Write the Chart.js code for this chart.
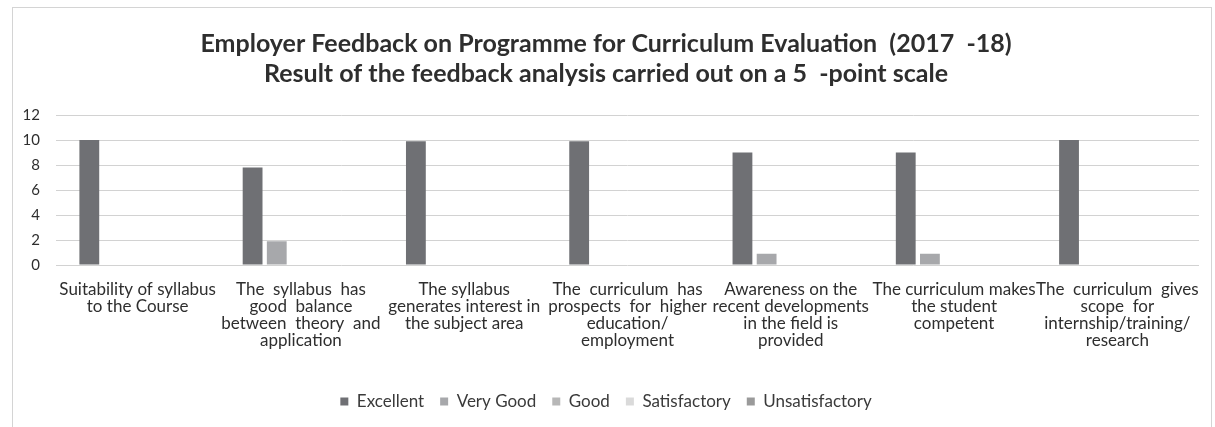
<!DOCTYPE html>
<html>
<head>
<meta charset="utf-8">
<script src="https://cdn.jsdelivr.net/npm/chart.js@4/dist/chart.umd.min.js"></script>
<style>
  html, body { margin: 0; padding: 0; background: #fff; }
  #wrap { position: absolute; left: 12px; top: 7px; width: 1200px; height: 420px; border-left: 1px solid #d4d4d4; border-top: 1px solid #d4d4d4; border-right: 1px solid #d4d4d4; box-sizing: border-box; }
  canvas { display: block; }
</style>
</head>
<body>
<div id="wrap"><canvas id="c"></canvas></div>
<script>
const titleLines = [
  "Employer Feedback on Programme for Curriculum Evaluation  (2017  -18)",
  "Result of the feedback analysis carried out on a 5  -point scale"
];
const categories = [
  ["Suitability of syllabus", "to the Course"],
  ["The  syllabus  has", "good  balance", "between  theory  and", "application"],
  ["The syllabus", "generates interest in", "the subject area"],
  ["The  curriculum  has", "prospects  for  higher", "education/", "employment"],
  ["Awareness on the", "recent developments", "in the field is", "provided"],
  ["The curriculum makes", "the student", "competent"],
  ["The  curriculum  gives", "scope  for", "internship/training/", "research"]
];
const seriesNames = ["Excellent", "Very Good", "Good", "Satisfactory", "Unsatisfactory"];
const excellent      = [10, 7.8, 9.9, 9.9, 9.0, 9.0, 10];
const veryGood       = [0, 1.9, 0, 0, 0.9, 0.9, 0];
const good           = [0, 0, 0, 0, 0, 0, 0];
const satisfactory   = [0, 0, 0, 0, 0, 0, 0];
const unsatisfactory = [0, 0, 0, 0, 0, 0, 0];
const yTicks = [0, 2, 4, 6, 8, 10, 12];

const colors = ["#6f7074", "#a7a8ab", "#b7b7b7", "#dadada", "#9a9a9a"];
const values = [excellent, veryGood, good, satisfactory, unsatisfactory];

const ctx = document.getElementById('c');
new Chart(ctx, {
  type: 'bar',
  data: {
    labels: categories,
    datasets: seriesNames.map((n, i) => ({
      label: n,
      data: values[i],
      backgroundColor: colors[i],
      borderWidth: 0,
      categoryPercentage: 0.74,
      barPercentage: 0.82
    }))
  },
  options: {
    responsive: true,
    maintainAspectRatio: false,
    animation: false,
    layout: { padding: { left: 0, right: 12, top: 0, bottom: 7 } },
    plugins: {
      title: {
        display: true,
        text: titleLines,
        color: '#2e2e2e',
        font: { family: 'Lato', size: 25, weight: 'bold' },
        lineHeight: 1.2,
        padding: { top: 21, bottom: 26 }
      },
      legend: {
        position: 'bottom',
        labels: {
          color: '#3a3a3a',
          font: { family: 'Lato', size: 17 },
          boxWidth: 8,
          boxHeight: 8,
          padding: 16
        }
      },
      tooltip: { enabled: false }
    },
    scales: {
      x: {
        grid: { display: false },
        border: { display: false },
        afterFit: (s) => { s.height = 112; },
        ticks: {
          color: '#2e2e2e',
          font: { family: 'Lato', size: 17, lineHeight: 1.0 },
          maxRotation: 0,
          autoSkip: false,
          padding: 8
        }
      },
      y: {
        min: 0,
        max: 12,
        afterBuildTicks: (axis) => { axis.ticks = yTicks.map(v => ({ value: v })); },
        afterFit: (s) => { s.width = 43; },
        grid: { color: '#d2d2d2', lineWidth: 1, drawTicks: false },
        border: { display: false },
        ticks: {
          color: '#2e2e2e',
          font: { family: 'Lato', size: 15 },
          padding: 16
        }
      }
    }
  }
});
</script>
</body>
</html>
